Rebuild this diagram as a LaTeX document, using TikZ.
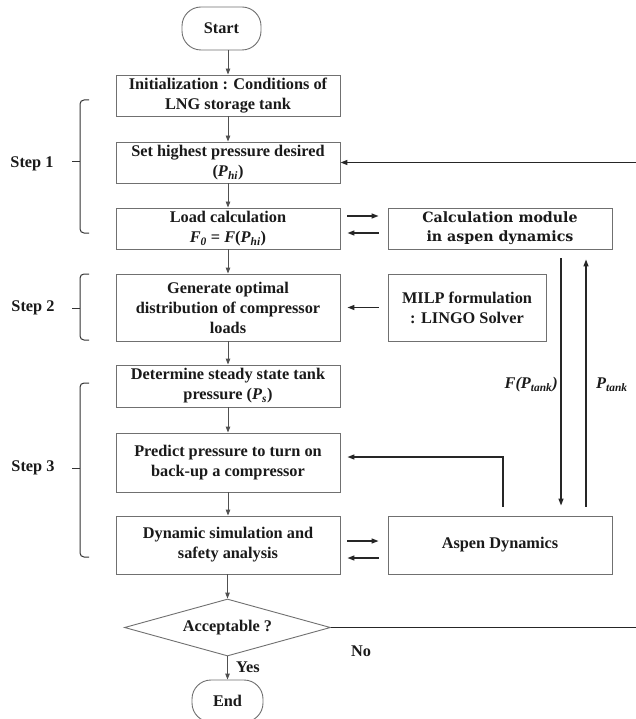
\documentclass[tikz,border=0pt]{standalone}
\usepackage{fontspec}
\setmainfont{Liberation Serif}
\newfontfamily\dvserif{DejaVu Serif}
\usetikzlibrary{arrows.meta,shapes.geometric}
\definecolor{boxc}{HTML}{707070}
\definecolor{txtc}{HTML}{1A1A1A}
\definecolor{flowc}{HTML}{505050}
\newcommand{\lsub}[1]{\textsubscript{\itshape #1}}
\begin{document}
\begin{tikzpicture}[x=1pt,y=-1pt,
  every node/.style={text=txtc, font=\bfseries\fontsize{16.3}{20}\selectfont},
  box/.style={draw=boxc, line width=0.9pt, rectangle, inner sep=0pt, align=center},
  term/.style={box, rounded corners=19pt},
  flow/.style={draw=flowc, line width=0.9pt, -{Triangle[length=6pt,width=4.5pt]}},
  link/.style={draw=black!85, line width=1.3pt, -{Triangle[length=7pt,width=5pt]}},
  brc/.style={draw=black!80, line width=1pt, rounded corners=4pt},
  lbl/.style={inner sep=0pt}
]
\useasboundingbox (0,0) rectangle (635,719);
\fill[white] (0,0) rectangle (635,719);

% main column
\node[term, minimum width=79pt, minimum height=43pt] (start) at (221.5,28.5) {Start};
\node[box, minimum width=224pt, minimum height=41pt] (init) at (228,95.5) {Initialization : Conditions of\\LNG storage tank};
\node[box, minimum width=224pt, minimum height=41pt] (set) at (228,162.5) {Set highest pressure desired\\(\textit{P}\lsub{hi})};
\node[box, minimum width=224pt, minimum height=41pt] (load) at (228,228.5) {Load calculation\\\textit{F}\lsub{0} = \textit{F}(\textit{P}\lsub{hi})};
\node[box, minimum width=224pt, minimum height=67pt] (gen) at (228,307.5) {Generate optimal\\distribution of compressor\\loads};
\node[box, minimum width=224pt, minimum height=42pt] (det) at (228,386) {Determine steady state tank\\pressure (\textit{P}\lsub{s})};
\node[box, minimum width=224pt, minimum height=59pt] (pred) at (228,462.5) {Predict pressure to turn on\\back-up a compressor};
\node[box, minimum width=224pt, minimum height=58pt] (dyn) at (228,545) {Dynamic simulation and\\safety analysis};
\node[draw=boxc, line width=0.9pt, diamond, aspect=3.6, inner sep=0pt, minimum width=206pt, minimum height=57pt] (dec) at (227.5,627.5) {Acceptable ?};
\node[term, minimum width=71pt, minimum height=42pt] (end) at (227.5,701) {End};

% right column
\node[box, minimum width=224pt, minimum height=41pt, font=\dvserif\bfseries\fontsize{14.2}{19}\selectfont] (calc) at (500,228.5) {Calculation module\\in aspen dynamics};
\node[box, minimum width=158pt, minimum height=67pt] (milp) at (467,307.5) {MILP formulation\\: LINGO Solver};
\node[box, minimum width=224pt, minimum height=58pt] (aspen) at (500,545) {Aspen Dynamics};

% main flow arrows
\draw[flow] (start.south -| init.north) -- (init.north);
\draw[flow] (init.south) -- (set.north);
\draw[flow] (set.south) -- (load.north);
\draw[flow] (load.south) -- (gen.north);
\draw[flow] (gen.south) -- (det.north);
\draw[flow] (det.south) -- (pred.north);
\draw[flow] (pred.south) -- (dyn.north);
\draw[flow] (dec.north |- dyn.south) -- (dec.north);
\draw[flow] (dec.south) -- (end.north);

% side arrows
\coordinate (ra) at (0,216);
\coordinate (la) at (0,233);
\coordinate (rb) at (0,541);
\coordinate (lb) at (0,558);
\draw[link, shorten <=7pt, shorten >=9pt] (load.east |- ra) -- (calc.west |- ra);
\draw[link, shorten <=9pt, shorten >=7pt] (calc.west |- la) -- (load.east |- la);
\draw[link, shorten <=9pt, shorten >=7pt] (milp.west) -- (gen.east);
\draw[link, shorten <=7pt, shorten >=9pt] (dyn.east |- rb) -- (aspen.west |- rb);
\draw[link, shorten <=9pt, shorten >=7pt] (aspen.west |- lb) -- (dyn.east |- lb);

% vertical exchange between calc module and aspen dynamics
\coordinate (xdn) at (561,0);
\coordinate (xup) at (586,0);
\draw[link, shorten <=9pt, shorten >=10pt] (calc.south -| xdn) -- (aspen.north -| xdn);
\draw[link, shorten <=9pt, shorten >=10pt] (aspen.north -| xup) -- (calc.south -| xup);
\node[lbl, anchor=east] (lf) at (558,385) {\itshape F(P\lsub{tank})};
\node[lbl, anchor=west] (lp) at (596,385) {\itshape P\lsub{tank}};

% feedback aspen -> predict
\coordinate (fb) at (503,457);
\draw[link, shorten <=9pt, shorten >=7pt] (aspen.north -| fb) |- (pred.east |- fb);

% No loop
\coordinate (redge) at (636.5,162.5);
\draw[link] (dec.east) -| (redge) -- (set.east);
\node[lbl] (no) at (361,651) {No};
\node[lbl, anchor=west] (yes) at (236,667) {Yes};

% step braces
\draw[brc] (89,100) -- (80,100) -- (80,233) -- (89,233);
\draw[brc] (80,162) -- (72,162);
\draw[brc] (89,274) -- (80,274) -- (80,340) -- (89,340);
\draw[brc] (80,308) -- (72,308);
\draw[brc] (89,383) -- (80,383) -- (80,557) -- (89,557);
\draw[brc] (80,468) -- (72,468);
\node[lbl] (s1) at (32,164) {Step 1};
\node[lbl] (s2) at (33,308) {Step 2};
\node[lbl] (s3) at (33,468) {Step 3};
\end{tikzpicture}
\end{document}
